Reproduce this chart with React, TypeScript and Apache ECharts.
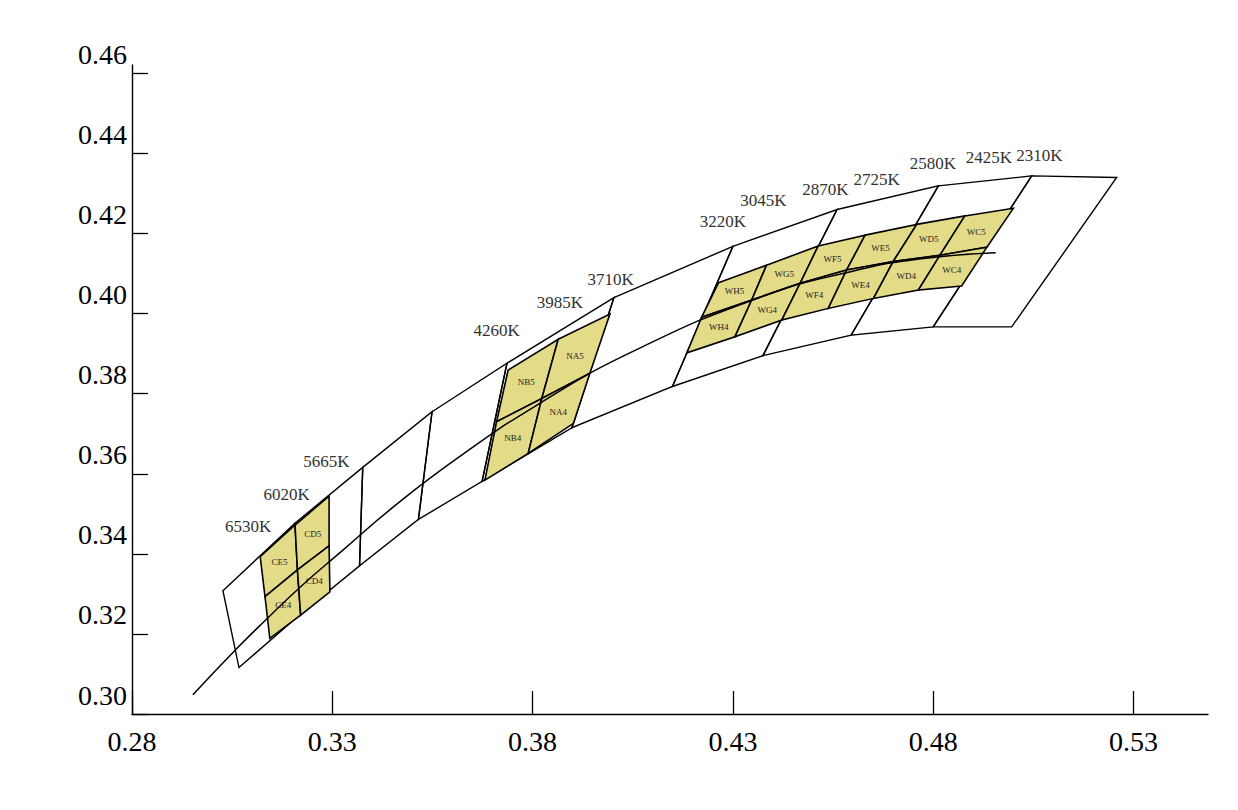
import React, { useEffect, useRef } from "react";
import * as echarts from "echarts";

// ---- axis ticks ----
const xTicks = [0.28, 0.33, 0.38, 0.43, 0.48, 0.53];
const yTicks = [0.3, 0.32, 0.34, 0.36, 0.38, 0.4, 0.42, 0.44, 0.46];

// ---- ANSI-style quadrangle strip (upper / lower corner chains) ----
const quadUpper = [
  [0.3027, 0.3308], [0.3206, 0.3476], [0.3376, 0.3616], [0.3549, 0.3755],
  [0.3736, 0.3876], [0.4003, 0.404], [0.43, 0.4168], [0.456, 0.426],
  [0.4813, 0.4319], [0.5046, 0.4344], [0.5258, 0.434],
];
const quadLower = [
  [0.3067, 0.3116], [0.3221, 0.325], [0.3368, 0.337], [0.3515, 0.3486],
  [0.3674, 0.3581], [0.3898, 0.3715], [0.4149, 0.3818], [0.4375, 0.3895],
  [0.4595, 0.3946], [0.48, 0.3967], [0.4996, 0.3967],
];

// ---- black-body locus ----
const locus = [
  [0.2952, 0.3048], [0.3064, 0.3166], [0.3135, 0.3236], [0.3221, 0.3318],
  [0.3325, 0.3408], [0.3451, 0.3516], [0.3608, 0.3636], [0.3805, 0.3768],
  [0.4053, 0.3907], [0.4369, 0.4041], [0.4599, 0.4106], [0.477, 0.4137],
  [0.4956, 0.4152],
];

// ---- bin regions (top / middle / bottom corner chains) ----
const cCols = ["CE", "CD"];
const cTop = [[0.312, 0.3393], [0.3207, 0.3472], [0.3292, 0.3544]];
const cMid = [[0.3132, 0.3293], [0.3213, 0.336], [0.3292, 0.342]];
const cBot = [[0.3144, 0.3189], [0.3221, 0.3247], [0.3294, 0.3305]];

const nCols = ["NB", "NA"];
const nTop = [[0.3739, 0.3859], [0.3864, 0.3936], [0.3993, 0.3999]];
const nMid = [[0.371, 0.373], [0.3823, 0.3788], [0.3943, 0.3851]];
const nBot = [[0.3681, 0.3584], [0.3789, 0.3651], [0.3902, 0.3726]];

const wCols = ["WH", "WG", "WF", "WE", "WD", "WC"];
const wTop = [
  [0.4264, 0.4077], [0.4384, 0.4121], [0.4513, 0.4169], [0.463, 0.4196],
  [0.4759, 0.4223], [0.4879, 0.4244], [0.5, 0.4263],
];
const wMid = [
  [0.4222, 0.3991], [0.4347, 0.4034], [0.4468, 0.4076], [0.4584, 0.4109],
  [0.47, 0.413], [0.4817, 0.4146], [0.4934, 0.4166],
];
const wBot = [
  [0.4185, 0.3902], [0.4305, 0.3942], [0.4422, 0.3984], [0.4538, 0.4013],
  [0.4651, 0.4038], [0.4763, 0.4059], [0.4871, 0.4069],
];

// ---- CCT labels ----
const cctNames = [
  "6530K", "6020K", "5665K", "4260K", "3985K", "3710K", "3220K",
  "3045K", "2870K", "2725K", "2580K", "2425K", "2310K",
];
const cctPos = [
  [0.309, 0.3468], [0.3186, 0.3548], [0.3285, 0.363], [0.371, 0.3957],
  [0.3868, 0.4029], [0.3995, 0.4086], [0.4275, 0.4231], [0.4376, 0.4282],
  [0.4531, 0.4309], [0.4659, 0.4334], [0.4799, 0.4374], [0.4939, 0.4391],
  [0.5065, 0.4395],
];

const SERIF = "'Liberation Serif', 'DejaVu Serif', serif";

function buildBins(top: number[][], mid: number[][], bot: number[][], cols: string[]) {
  const out: { name: string; pts: number[][] }[] = [];
  for (let i = 0; i < cols.length; i++) {
    out.push({ name: cols[i] + "5", pts: [top[i], top[i + 1], mid[i + 1], mid[i]] });
    out.push({ name: cols[i] + "4", pts: [mid[i], mid[i + 1], bot[i + 1], bot[i]] });
  }
  return out;
}

export default function App() {
  const ref = useRef<HTMLDivElement>(null);

  useEffect(() => {
    document.body.style.margin = "0";
    if (!ref.current) return;
    const chart = echarts.init(ref.current, undefined, { renderer: "svg" });

    const quads: number[][][] = [];
    for (let i = 0; i < quadUpper.length - 1; i++) {
      quads.push([quadUpper[i], quadUpper[i + 1], quadLower[i + 1], quadLower[i]]);
    }
    const bins = [
      ...buildBins(cTop, cMid, cBot, cCols),
      ...buildBins(nTop, nMid, nBot, nCols),
      ...buildBins(wTop, wMid, wBot, wCols),
    ];

    const option: any = {
      animation: false,
      backgroundColor: "#fff",
      grid: { left: 132, right: 30, top: 65, bottom: 96, containLabel: false },
      xAxis: {
        type: "value",
        min: 0.28,
        max: 0.5486,
        splitLine: { show: false },
        axisLine: { lineStyle: { color: "#000", width: 1.4 } },
        axisTick: {
          inside: true,
          length: 23,
          customValues: xTicks,
          lineStyle: { color: "#000", width: 1.3 },
        },
        axisLabel: {
          customValues: xTicks,
          formatter: (v: number) => v.toFixed(2),
          fontSize: 28,
          lineHeight: 28,
          fontFamily: SERIF,
          color: "#000",
          margin: 13,
        },
      },
      yAxis: {
        type: "value",
        min: 0.3,
        max: 0.4621,
        splitLine: { show: false },
        axisLine: { lineStyle: { color: "#000", width: 1.4 } },
        axisTick: {
          inside: true,
          length: 16,
          customValues: yTicks,
          lineStyle: { color: "#000", width: 1.3 },
        },
        axisLabel: {
          customValues: yTicks,
          formatter: (v: number) => v.toFixed(2),
          fontSize: 28,
          lineHeight: 28,
          fontFamily: SERIF,
          color: "#000",
          margin: 5,
          verticalAlign: "bottom",
          padding: [0, 0, 5, 0],
        },
      },
      series: [
        {
          type: "custom",
          name: "quads",
          coordinateSystem: "cartesian2d",
          clip: false,
          data: quads.map((q) => q.flat()),
          renderItem: (params: any, api: any) => {
            const pts = [];
            for (let k = 0; k < 4; k++) pts.push(api.coord([api.value(2 * k), api.value(2 * k + 1)]));
            return {
              type: "polygon",
              shape: { points: pts },
              style: { fill: "none", stroke: "#000", lineWidth: 1.4 },
            };
          },
        },
        {
          type: "custom",
          name: "bins",
          coordinateSystem: "cartesian2d",
          clip: false,
          data: bins.map((b) => b.pts.flat()),
          renderItem: (params: any, api: any) => {
            const pts: number[][] = [];
            for (let k = 0; k < 4; k++) pts.push(api.coord([api.value(2 * k), api.value(2 * k + 1)]));
            const cx = (pts[0][0] + pts[1][0] + pts[2][0] + pts[3][0]) / 4;
            const cy = (pts[0][1] + pts[1][1] + pts[2][1] + pts[3][1]) / 4;
            return {
              type: "group",
              children: [
                {
                  type: "polygon",
                  shape: { points: pts },
                  style: { fill: "#E4DB89", stroke: "#000", lineWidth: 1.6 },
                },
                {
                  type: "text",
                  x: cx,
                  y: cy,
                  style: {
                    text: bins[params.dataIndex].name,
                    textAlign: "center",
                    textVerticalAlign: "middle",
                    align: "center",
                    verticalAlign: "middle",
                    fontSize: 9,
                    fontFamily: SERIF,
                    fill: "#222",
                  },
                },
              ],
            };
          },
        },
        {
          type: "line",
          name: "locus",
          data: locus,
          smooth: true,
          showSymbol: false,
          symbol: "none",
          lineStyle: { color: "#000", width: 1.5 },
          z: 3,
        },
        {
          type: "custom",
          name: "cct",
          coordinateSystem: "cartesian2d",
          clip: false,
          data: cctPos,
          renderItem: (params: any, api: any) => {
            const p = api.coord([api.value(0), api.value(1)]);
            return {
              type: "text",
              x: p[0],
              y: p[1],
              style: {
                text: cctNames[params.dataIndex],
                textAlign: "center",
                textVerticalAlign: "middle",
                align: "center",
                verticalAlign: "middle",
                fontSize: 17,
                fontFamily: SERIF,
                fill: "#333",
              },
            };
          },
        },
      ],
    };

    chart.setOption(option);
    return () => chart.dispose();
  }, []);

  return <div ref={ref} style={{ width: 1238, height: 810 }} />;
}
